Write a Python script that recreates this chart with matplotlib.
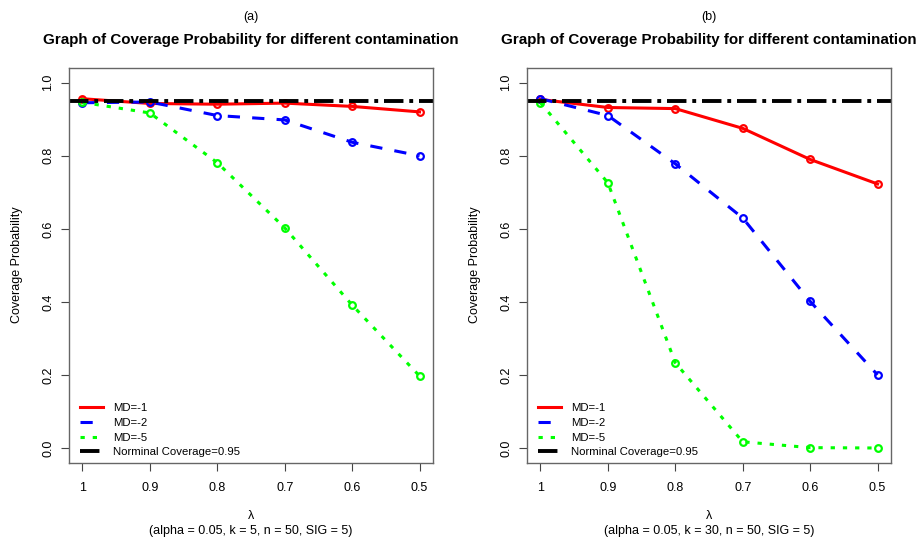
import matplotlib
matplotlib.use("Agg")
import matplotlib.pyplot as plt
from matplotlib.lines import Line2D

plt.rcParams['font.family'] = ['Liberation Sans', 'DejaVu Sans']

lam = [1, 0.9, 0.8, 0.7, 0.6, 0.5]
lam_labels = ['1', '0.9', '0.8', '0.7', '0.6', '0.5']
nominal = 0.95

# panel (a): k = 5
cp_a_md1 = [0.956, 0.943, 0.941, 0.944, 0.935, 0.920]
cp_a_md2 = [0.945, 0.947, 0.910, 0.898, 0.837, 0.800]
cp_a_md5 = [0.946, 0.917, 0.781, 0.603, 0.392, 0.198]

# panel (b): k = 30
cp_b_md1 = [0.954, 0.932, 0.929, 0.875, 0.790, 0.723]
cp_b_md2 = [0.956, 0.910, 0.778, 0.630, 0.402, 0.201]
cp_b_md5 = [0.945, 0.726, 0.234, 0.018, 0.002, 0.001]

panels = [
    ('(a)', 'k = 5', cp_a_md1, cp_a_md2, cp_a_md5),
    ('(b)', 'k = 30', cp_b_md1, cp_b_md2, cp_b_md5),
]

styles = [
    dict(color='red', lw=2.2, ls='-'),
    dict(color='blue', lw=2.2, dashes=(4, 4)),
    dict(color='#00ff00', lw=2.2, dashes=(1.4, 2.6)),
]
nom_style = dict(color='black', lw=2.8, dashes=(5, 1.5, 1, 1.5))
labels = ['MD=-1', 'MD=-2', 'MD=-5', 'Norminal Coverage=0.95']

fig = plt.figure(figsize=(9.17, 5.40), dpi=100)
W, H = 917, 540
lefts = [69, 527]
ax_w = 364
top, bottom = 68, 463

for (tag, ktxt, md1, md2, md5), left in zip(panels, lefts):
    ax = fig.add_axes([left / W, 1 - bottom / H, ax_w / W, (bottom - top) / H])
    for vals, st in zip([md1, md2, md5], styles):
        ax.plot(lam, vals, marker='o', ms=4.8, mfc='none', mew=1.6, **st)
    ax.axhline(nominal, **nom_style)

    ax.set_xlim(1.02, 0.48)
    ax.set_ylim(-0.04, 1.04)
    ax.set_xticks(lam)
    ax.set_xticklabels(lam_labels)
    ax.set_yticks([0, 0.2, 0.4, 0.6, 0.8, 1.0])
    ax.set_yticklabels(['0.0', '0.2', '0.4', '0.6', '0.8', '1.0'], rotation=90,
                       va='center')
    ax.tick_params(labelsize=9, length=5.5, width=0.8, color='#444444', pad=5)
    ax.tick_params(axis='x', pad=8)
    for s in ax.spines.values():
        s.set_color('#666666')
        s.set_linewidth(1.0)

    cx = (left + ax_w / 2) / W
    fig.text(cx, 1 - 17 / H, tag, ha='center', va='center', fontsize=9)
    fig.text(cx, 1 - 40 / H, 'Graph of Coverage Probability for different contamination',
             ha='center', va='center', fontsize=10.9, fontweight='bold')
    fig.text(cx, 1 - 516 / H, 'λ', ha='center', va='center', fontsize=9)
    fig.text(cx, 1 - 531 / H, '(alpha = 0.05, %s, n = 50, SIG = 5)' % ktxt,
             ha='center', va='center', fontsize=9)
    fig.text((left - 52) / W, 1 - 265 / H, 'Coverage Probability', rotation=90,
             ha='center', va='center', fontsize=9)

    handles = [Line2D([], [], **st) for st in styles] + [Line2D([], [], **nom_style)]
    ax.legend(handles, labels, loc='lower left', bbox_to_anchor=(0.014, 0.0),
              frameon=False, fontsize=8.2, handlelength=2.0, labelspacing=0.42,
              borderaxespad=0.1, handletextpad=0.9)

fig.savefig('out.png', dpi=100)
